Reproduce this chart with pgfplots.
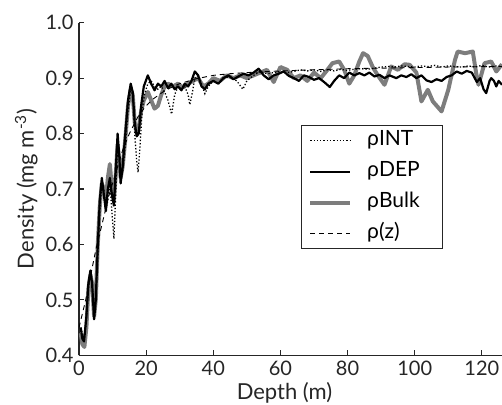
\documentclass[border=0pt]{standalone}
\usepackage{fontspec}
\setmainfont{Lato}
\usepackage{pgfplots}
\pgfplotsset{compat=1.18}
\definecolor{bulkgray}{RGB}{125,125,125}
\begin{document}
\begin{tikzpicture}
\begin{axis}[
  name=ax,
  scale only axis,
  width=423bp, height=332.6bp,
  xmin=0, xmax=126, ymin=0.4, ymax=1.0,
  axis x line=bottom, axis y line=left,
  axis line style={-, line width=1.3pt, black!85},
  tick align=inside,
  major tick length=5bp,
  tick style={line width=1.2pt, black!85},
  xtick={0,20,40,60,80,100,120},
  ytick={0.4,0.5,0.6,0.7,0.8,0.9,1.0},
  yticklabel style={xshift=-2bp, /pgf/number format/.cd, fixed, fixed zerofill, precision=1},
  /pgf/number format/assume math mode=true,
  ticklabel style={font=\fontsize{20bp}{22bp}\selectfont, black!85},
  xticklabel style={yshift=-2bp},
  label style={font=\fontsize{22bp}{24bp}\selectfont, black!85},
  xlabel={Depth (m)},
  ylabel={Density (mg m\textsuperscript{-3})},
  xlabel style={yshift=0bp, xshift=-6bp},
  ylabel style={yshift=1bp},
  legend cell align=left,
  legend image code/.code={\draw[#1] (0bp,0bp) -- (40bp,0bp); \path (53bp,0bp);},
  legend style={at={(rel axis cs:0.524,0.692)}, anchor=north west,
    draw=black!85, line width=1.2pt, inner xsep=7bp, inner ysep=3bp,
    font=\fontsize{21bp}{23bp}\selectfont,
    nodes={inner sep=2bp, text height=15bp, text depth=5bp},
    row sep=7bp},
]
\addlegendimage{black, line width=1.3pt, dotted}
\addlegendentry{ρINT}
\addlegendimage{black, line width=2.2pt}
\addlegendentry{ρDEP}
\addlegendimage{bulkgray, line width=4pt}
\addlegendentry{ρBulk\hspace*{14bp}}
\addlegendimage{black, line width=0.9pt, dash pattern=on 5bp off 4bp}
\addlegendentry{ρ(z)}

% rho Bulk
\addplot[bulkgray, line width=4pt, line join=round, forget plot] coordinates {
(0.5,0.44) (1.0,0.42) (1.6,0.415) (2.2,0.45) (2.8,0.52) (3.4,0.545) (3.9,0.53) (4.5,0.47)
(5.0,0.50) (5.6,0.60) (6.2,0.67) (6.8,0.71) (7.4,0.70) (8.0,0.68) (8.6,0.72) (9.2,0.745)
(9.8,0.70) (10.4,0.68) (11.0,0.73) (11.5,0.78) (12.0,0.75) (12.4,0.72) (13.0,0.74) (13.8,0.79)
(14.6,0.85) (15.4,0.88) (16.0,0.87) (16.6,0.82) (17.2,0.80) (17.8,0.81) (18.5,0.84) (19.3,0.86)
(20.5,0.875) (21.5,0.86) (22.5,0.845) (23.5,0.85) (24.5,0.87) (25.5,0.885) (26.5,0.89) (28,0.885)
(29.5,0.89) (31,0.883) (32.5,0.89) (34,0.895) (35.5,0.90) (37,0.885) (38.5,0.89) (40,0.90)
(42,0.895) (44,0.905) (46,0.90) (48,0.905) (50,0.90) (52,0.905) (54,0.91) (56,0.915)
(58,0.893) (60,0.92) (62,0.915) (64,0.90) (66,0.905) (68,0.895) (70,0.91) (72,0.90)
(74,0.915) (75.5,0.927) (77.5,0.93) (79,0.915) (80.5,0.89) (82,0.905) (83.5,0.93) (84.6,0.945)
(86,0.94) (87.5,0.92) (89,0.905) (91,0.888) (93,0.921) (95,0.915) (97,0.925) (98.5,0.924)
(100.5,0.91) (102,0.858) (103.9,0.879) (105.4,0.858) (108,0.84) (110,0.879) (112,0.933) (112.8,0.948)
(115,0.945) (117.3,0.948) (118.3,0.909) (119,0.888) (120.8,0.927) (122.8,0.93) (124.3,0.912) (126,0.925)
};

% rho DEP
\addplot[black, line width=2.2pt, line join=round, forget plot] coordinates {
(0.5,0.45) (1.0,0.43) (1.5,0.425) (2.2,0.47) (2.8,0.53) (3.4,0.553) (3.9,0.53) (4.5,0.465)
(5.0,0.50) (5.6,0.60) (6.2,0.68) (6.8,0.72) (7.4,0.69) (8.0,0.66) (8.6,0.70) (9.2,0.72)
(9.8,0.69) (10.4,0.67) (11.0,0.74) (11.5,0.80) (12.0,0.76) (12.4,0.71) (13.0,0.74) (13.8,0.80)
(14.6,0.86) (15.4,0.89) (16.0,0.875) (16.6,0.82) (17.2,0.795) (17.8,0.80) (18.5,0.85) (19.3,0.885)
(20.5,0.905) (21.5,0.89) (22.5,0.878) (23.5,0.89) (24.5,0.885) (25.5,0.895) (26.5,0.882) (27.5,0.89)
(28.5,0.88) (29.5,0.885) (30.5,0.878) (31.5,0.89) (32.5,0.885) (33.5,0.895) (34.5,0.912) (35.5,0.905)
(36.5,0.885) (37.5,0.88) (38.5,0.89) (40,0.895) (41.5,0.89) (43,0.90) (44.5,0.905) (46,0.898)
(47.5,0.903) (49,0.908) (50.5,0.905) (52,0.91) (53.5,0.917) (55,0.905) (56.5,0.898) (58,0.905)
(59.5,0.908) (61,0.912) (62.5,0.904) (64,0.90) (65.5,0.895) (67,0.905) (68.5,0.902) (70,0.897)
(71.5,0.90) (73,0.893) (74.7,0.884) (76,0.895) (77.5,0.905) (79,0.90) (80.5,0.91) (82,0.905)
(83.5,0.909) (85,0.905) (86.5,0.91) (88,0.903) (89.5,0.906) (91,0.90) (92.5,0.905) (94.5,0.90)
(96,0.905) (97.5,0.902) (99,0.907) (100.5,0.90) (102,0.905) (103.5,0.896) (105,0.893) (106.5,0.898)
(108,0.895) (109.5,0.902) (111,0.905) (112.5,0.912) (114,0.908) (115.5,0.913) (117,0.91) (118.5,0.893)
(119.5,0.90) (120.5,0.88) (121.3,0.873) (122.3,0.895) (122.8,0.90) (123.6,0.895) (124.3,0.885) (125,0.895)
(126,0.888)
};

% rho INT
\addplot[black, line width=1.3pt, dotted, forget plot] coordinates {
(0.5,0.45) (1.0,0.44) (1.5,0.43) (2.2,0.46) (2.8,0.52) (3.4,0.545) (3.9,0.53) (4.5,0.48)
(5.0,0.50) (5.6,0.58) (6.2,0.66) (6.8,0.71) (7.4,0.70) (8.0,0.66) (8.6,0.68) (9.2,0.71)
(9.8,0.66) (10.4,0.61) (11.0,0.70) (11.5,0.78) (12.0,0.76) (12.4,0.72) (13.0,0.73) (13.8,0.78)
(14.6,0.84) (15.4,0.88) (16.0,0.87) (16.6,0.80) (17.2,0.75) (17.6,0.73) (18.2,0.78) (18.8,0.84)
(19.5,0.87) (20.5,0.89) (21.5,0.895) (22.5,0.885) (23.5,0.88) (24.5,0.885) (25.5,0.875) (26.5,0.86)
(27.6,0.835) (28.5,0.87) (29.5,0.885) (30.5,0.88) (31.5,0.885) (32.5,0.87) (33.0,0.852) (33.8,0.875)
(34.5,0.90) (35.5,0.905) (36.5,0.89) (37.5,0.872) (38.5,0.885) (40,0.895) (41.5,0.89) (43,0.90)
(45,0.902) (47,0.895) (48.8,0.88) (50,0.895) (52,0.905) (54,0.912) (56,0.908) (58,0.91)
(60,0.912) (62,0.91) (64,0.912) (66,0.915) (68,0.913) (70,0.915) (72,0.912) (74,0.915)
(76,0.913) (78,0.916) (80,0.914) (82,0.916) (84,0.917) (86,0.916) (88,0.918) (90,0.92)
(92,0.921) (94,0.92) (96,0.922) (98,0.921) (100,0.92) (102,0.922) (104,0.921) (106,0.923)
(108,0.92) (110,0.922) (112,0.921) (114,0.92) (116,0.922) (118,0.92) (120,0.923) (122,0.92)
(124,0.922) (126,0.921)
};

% rho(z)
\addplot[black, line width=0.9pt, dash pattern=on 5bp off 4bp, forget plot] coordinates {
(0,0.45) (1,0.475) (2,0.50) (3,0.53) (4,0.56) (5,0.59) (6,0.615) (7,0.64)
(8,0.665) (9,0.69) (10,0.71) (11,0.73) (12,0.75) (13,0.77) (14,0.785) (15,0.80)
(16,0.812) (17,0.824) (18,0.835) (20,0.85) (22,0.862) (25,0.875) (28,0.885) (30,0.89)
(35,0.899) (40,0.905) (45,0.908) (50,0.91) (60,0.913) (70,0.915) (80,0.917) (90,0.918)
(100,0.919) (110,0.92) (126,0.921)
};
\end{axis}
\pgfresetboundingbox
\path ([shift={(-79bp,-49.7bp)}]ax.south west) rectangle ([shift={(0bp,22.7bp)}]ax.north east);
\end{tikzpicture}
\end{document}
